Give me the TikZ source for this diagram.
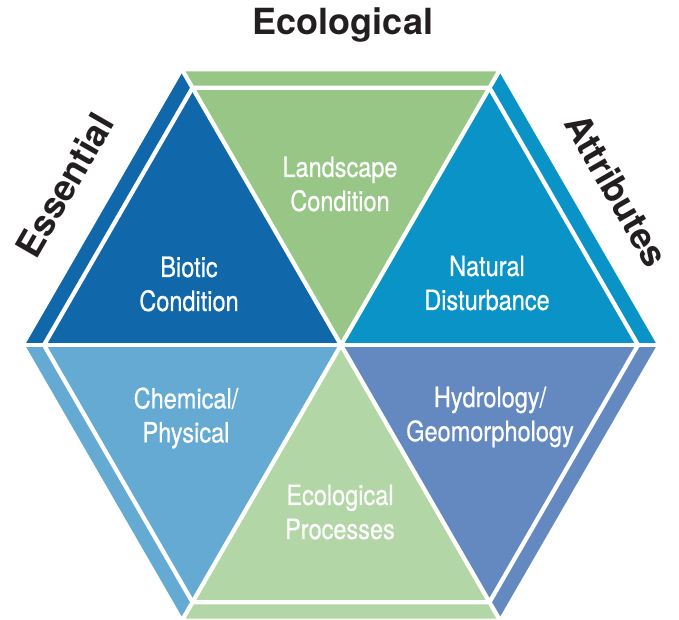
\documentclass[tikz,border=0pt]{standalone}
\usepackage{fontspec}
\setmainfont{TeX Gyre Heros}
\newfontfamily\narrowfont{TeX Gyre Heros}[FakeStretch=0.84, FakeBold=0.6]
\usetikzlibrary{positioning,calc}

\definecolor{landgreen}{HTML}{97C687}
\definecolor{bioticblue}{HTML}{1068AB}
\definecolor{naturalblue}{HTML}{0993C6}
\definecolor{chemblue}{HTML}{64AAD2}
\definecolor{hydroblue}{HTML}{6389C0}
\definecolor{procgreen}{HTML}{B3D6A6}
\definecolor{headblack}{HTML}{231F20}

\begin{document}
\begin{tikzpicture}[
    x=0.75pt, y=0.75pt,
    tritext/.style={text=white, align=center, font=\narrowfont\fontsize{21}{25.5}\selectfont},
    heading/.style={text=headblack, font=\bfseries\fontsize{27}{30}\selectfont},
    gap/.style={draw=white, line width=3.2pt}
]
    \useasboundingbox (0,0) rectangle (679,619);
    \coordinate (c) at (341,274);
    \foreach \i/\a in {1/0,2/60,3/120,4/180,5/240,6/300}{
        \coordinate (o\i) at ($(c)+(\a:316)$);
        \coordinate (n\i) at ($(c)+(\a:297)$);
    }

    % six sectors, band and triangle in one colour
    \fill[naturalblue] (c) -- (o1) -- (o2) -- cycle;
    \fill[landgreen] (c) -- (o2) -- (o3) -- cycle;
    \fill[bioticblue] (c) -- (o3) -- (o4) -- cycle;
    \fill[chemblue] (c) -- (o4) -- (o5) -- cycle;
    \fill[procgreen] (c) -- (o5) -- (o6) -- cycle;
    \fill[hydroblue] (c) -- (o6) -- (o1) -- cycle;

    % white gaps
    \draw[gap] (n1) -- (n2) -- (n3) -- (n4) -- (n5) -- (n6) -- cycle;
    \draw[gap] (o1) -- (o4);
    \draw[gap] (o2) -- (o5);
    \draw[gap] (o3) -- (o6);

    \node[tritext] (landscape) at (340,435) {Landscape\\Condition};
    \node[tritext] (biotic) at (189,335) {Biotic\\Condition};
    \node[tritext] (natural) at (487,336) {Natural\\Disturbance};
    \node[tritext] (chemical) at (186,201) {Chemical/\\Physical};
    \node[tritext] (hydrology) at (490,202) {Hydrology/\\Geomorphology};
    \node[tritext] (processes) at (340,107) {Ecological\\Processes};

    \node[heading] (ecological) at (343,594) {Ecological};
    \node[heading, rotate=60] (essential) at (65,434) {Essential};
    \node[heading, rotate=-60] (attributes) at (617,429) {Attributes};
\end{tikzpicture}
\end{document}
